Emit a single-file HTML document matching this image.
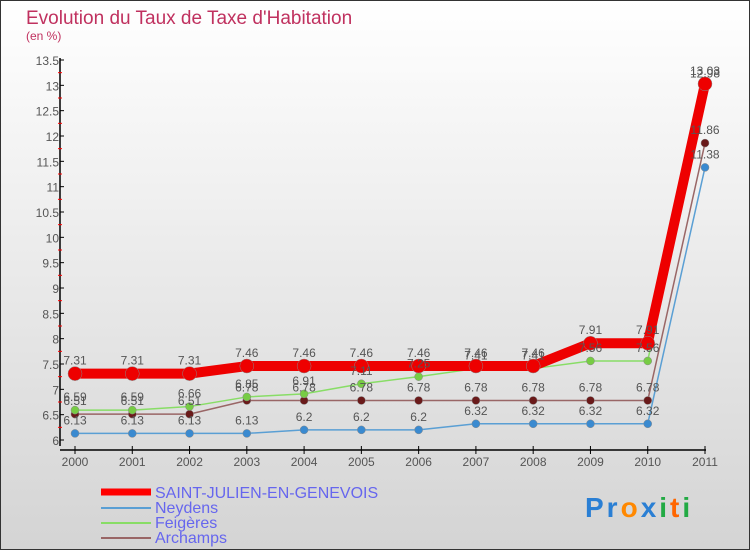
<!DOCTYPE html>
<html><head><meta charset="utf-8"><style>
body{margin:0}
#c{width:750px;height:550px;position:relative;font-family:"Liberation Sans",sans-serif}
svg text{font-family:"Liberation Sans",sans-serif}
</style></head><body>
<div id="c">
<svg id="s" width="750" height="550" xmlns="http://www.w3.org/2000/svg">
<defs><linearGradient id="bg" x1="0" y1="0" x2="0" y2="1"><stop offset="0" stop-color="#ffffff"/><stop offset="1" stop-color="#d4d4d4"/></linearGradient></defs>
<rect x="0.5" y="0.5" width="749" height="549" fill="url(#bg)" stroke="#333"/>
<text x="26" y="24" font-size="19" fill="#c0315f">Evolution du Taux de Taxe d'Habitation</text>
<text x="26" y="40" font-size="12" fill="#c0315f">(en %)</text>
<g id="axes"></g><g id="series"></g><g id="labels"></g>
<g>
<line x1="101" y1="492" x2="151" y2="492" stroke="#f00" stroke-width="7"/>
<text x="155" y="498" font-size="16" fill="#6666ee">SAINT-JULIEN-EN-GENEVOIS</text>
<line x1="101" y1="508" x2="151" y2="508" stroke="#5a9fd4" stroke-width="2"/>
<text x="155" y="513" font-size="16" fill="#6666ee">Neydens</text>
<line x1="101" y1="523" x2="151" y2="523" stroke="#88dd66" stroke-width="2"/>
<text x="155" y="528" font-size="16" fill="#6666ee">Feigères</text>
<line x1="101" y1="538" x2="151" y2="538" stroke="#996666" stroke-width="2"/>
<text x="155" y="543" font-size="16" fill="#6666ee">Archamps</text>
</g>
<g font-size="28" font-weight="bold" letter-spacing="3">
<text x="585" y="517"><tspan fill="#2a7fd4">Pr</tspan><tspan fill="#ff8800">o</tspan><tspan fill="#2a7fd4">x</tspan><tspan fill="#22aa44">i</tspan><tspan fill="#ff6600">t</tspan><tspan fill="#22aa44">i</tspan></text>
</g>
</svg>
</div>
<script>
const years=["2000","2001","2002","2003","2004","2005","2006","2007","2008","2009","2010","2011"];
const yTicks=[6,6.5,7,7.5,8,8.5,9,9.5,10,10.5,11,11.5,12,12.5,13,13.5];
const stJulien=[7.31,7.31,7.31,7.46,7.46,7.46,7.46,7.46,7.46,7.91,7.91,13.03];
const neydens=[6.13,6.13,6.13,6.13,6.2,6.2,6.2,6.32,6.32,6.32,6.32,11.38];
const feigeres=[6.59,6.59,6.66,6.85,6.91,7.11,7.25,7.41,7.41,7.56,7.56,12.98];
const archamps=[6.51,6.51,6.51,6.78,6.78,6.78,6.78,6.78,6.78,6.78,6.78,11.86];
const NS="http://www.w3.org/2000/svg";
const X=i=>75+i*(630/11);
const Y=v=>440-(v-6)*(380/7.5);
function mk(tag,attrs,parent){const e=document.createElementNS(NS,tag);for(const k in attrs)e.setAttribute(k,attrs[k]);parent.appendChild(e);return e;}
const ax=document.getElementById('axes');
let e=mk('line',{x1:60,y1:58,x2:60,y2:446,stroke:'#000','stroke-width':1.5},ax);


e=mk('line',{x1:60,y1:450,x2:706,y2:450,stroke:'#000','stroke-width':1.5},ax);


yTicks.forEach((t,i)=>{
  mk('line',{x1:60,y1:Y(t),x2:64,y2:Y(t),stroke:'#000'},ax);
  if(i<yTicks.length-1)mk('line',{x1:58,y1:Y(t+0.25),x2:62,y2:Y(t+0.25),stroke:'#f00'},ax);
  const tx=mk('text',{x:59,y:Y(t)+5,'font-size':12,fill:'#555','text-anchor':'end'},ax);
  tx.textContent=String(t);
  
  
});
years.forEach((y,i)=>{
  mk('line',{x1:X(i),y1:446,x2:X(i),y2:454,stroke:'#000'},ax);
  const tx=mk('text',{x:X(i),y:466,'font-size':12,fill:'#555','text-anchor':'middle'},ax);
  tx.textContent=y;
  
  
});
const sg=document.getElementById('series'),lg=document.getElementById('labels');
function draw(vals,name,col,dot,w,r){
  const pts=vals.map((v,i)=>X(i)+','+Y(v)).join(' ');
  const pl=mk('polyline',{points:pts,fill:'none',stroke:col,'stroke-width':w,'stroke-linejoin':'round'},sg);
  
  
  vals.forEach((v,i)=>{
    const c=mk('circle',{cx:X(i),cy:Y(v),r:r,fill:dot,stroke:'#888','stroke-width':0.5},sg);
    
    
    const t=mk('text',{x:X(i),y:Y(v)-9,'font-size':12,fill:'#555','text-anchor':'middle'},lg);
    t.textContent=String(v);
    
    
  });
}
draw(neydens,'neydens','#5a9fd4','#3a8ad0',1.5,4);
draw(archamps,'archamps','#996666','#6a1a1a',1.5,4);
draw(feigeres,'feigeres','#88dd66','#77cc44',1.5,4);
draw(stJulien,'saint-julien','#ee0000','#ee0000',10,7);
</script>
</body></html>
